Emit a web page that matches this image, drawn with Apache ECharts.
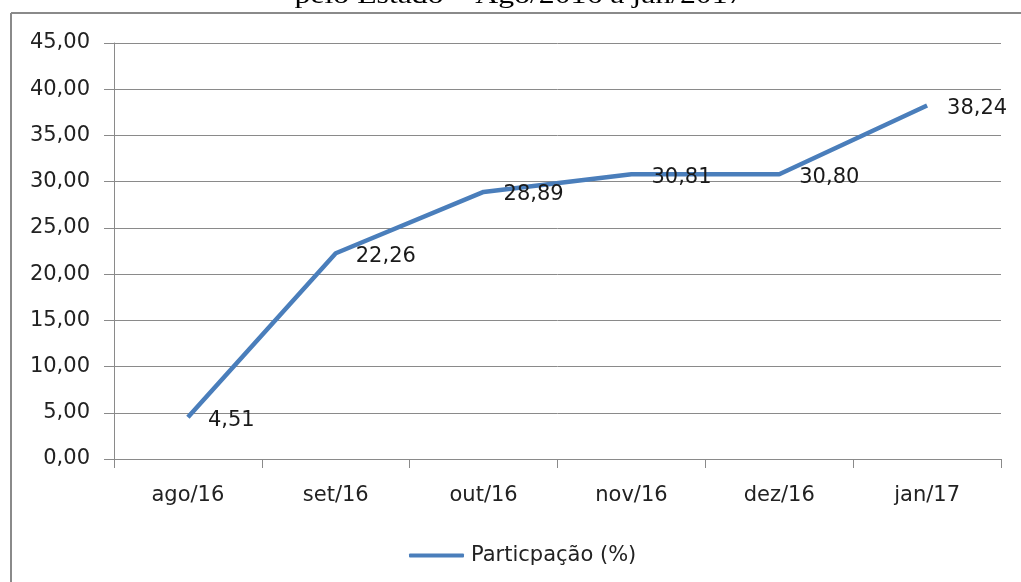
<!DOCTYPE html>
<html>
<head>
<meta charset="utf-8">
<script src="https://cdn.jsdelivr.net/npm/echarts@6/dist/echarts.min.js"></script>
<style>
html,body{margin:0;padding:0;background:#fff;}
#c{width:1021px;height:582px;}
</style>
</head>
<body>
<div id="c"></div>
<script>
const titleText = 'pelo Estado – Ago/2016 a jan/2017';
const seriesName = 'Particpação (%)';
const categories = ['ago/16', 'set/16', 'out/16', 'nov/16', 'dez/16', 'jan/17'];
const values = [4.51, 22.26, 28.89, 30.81, 30.80, 38.24];
const yMin = 0, yMax = 45, yStep = 5;

const fmt = v => v.toFixed(2).replace('.', ',');
const FONT = 'DejaVu Sans';
const FS = 21;
const BLUE = '#4a7ebb';

const chart = echarts.init(document.getElementById('c'), null, {renderer: 'canvas'});
chart.setOption({
  backgroundColor: '#ffffff',
  animation: false,
  grid: {left: 114, right: 20, top: 43, bottom: 123, containLabel: false},
  graphic: [
    {type: 'line', shape: {x1: 11, y1: 13, x2: 1021, y2: 13}, style: {stroke: '#8a8a8a', lineWidth: 2}},
    {type: 'line', shape: {x1: 11, y1: 13, x2: 11, y2: 582}, style: {stroke: '#8a8a8a', lineWidth: 2}},
    {type: 'text', x: 519, y: -4, scaleX: 1.27, originX: 0, originY: 0,
     style: {text: titleText, fontFamily: 'Liberation Serif', fontSize: 25, fill: '#000', align: 'center', verticalAlign: 'middle'}}
  ],
  legend: {
    data: [seriesName],
    left: 404, top: 540,
    icon: 'roundRect', itemWidth: 55, itemHeight: 4,
    itemStyle: {color: BLUE},
    textStyle: {fontFamily: FONT, fontSize: FS, color: '#222', padding: [0, 0, 0, 2]}
  },
  xAxis: {
    type: 'category',
    data: categories,
    boundaryGap: true,
    axisLine: {lineStyle: {color: '#8a8a8a', width: 1}},
    axisTick: {show: true, length: 9, alignWithLabel: false, lineStyle: {color: '#8a8a8a'}},
    axisLabel: {fontFamily: FONT, fontSize: FS, color: '#222', margin: 26}
  },
  yAxis: {
    type: 'value',
    min: yMin, max: yMax, interval: yStep,
    axisLine: {show: true, lineStyle: {color: '#8a8a8a', width: 1}},
    axisTick: {show: true, length: 10, lineStyle: {color: '#8a8a8a'}},
    splitLine: {show: true, lineStyle: {color: '#8a8a8a', width: 1}},
    axisLabel: {fontFamily: FONT, fontSize: FS, color: '#222', margin: 24, formatter: v => fmt(v)}
  },
  series: [{
    name: seriesName,
    type: 'line',
    data: values,
    showSymbol: true,
    symbol: 'circle',
    symbolSize: 0,
    lineStyle: {color: BLUE, width: 4.5},
    itemStyle: {color: BLUE},
    label: {
      show: true, position: 'right', distance: 20, offset: [0, 3],
      fontFamily: FONT, fontSize: FS, color: '#1a1a1a',
      formatter: p => fmt(p.value)
    }
  }]
});
</script>
</body>
</html>
